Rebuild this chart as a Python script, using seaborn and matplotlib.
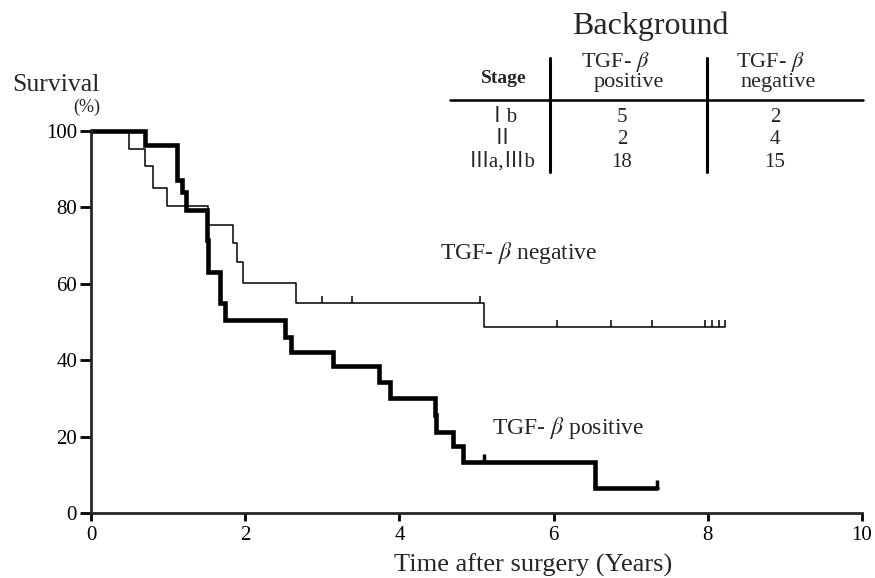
import matplotlib
matplotlib.use('Agg')
import matplotlib.pyplot as plt
import seaborn as sns
from matplotlib.lines import Line2D

# Kaplan-Meier steps (time in years, survival in %)
pos_time = [0, 0.70, 1.11, 1.18, 1.23, 1.50, 1.52, 1.67, 1.74, 2.52, 2.60,
            3.14, 3.73, 3.88, 4.46, 4.48, 4.70, 4.83, 6.54, 7.34]
pos_surv = [100, 96.3, 87.3, 84.1, 79.3, 71.5, 63.2, 55.0, 50.5, 46.2, 42.2,
            38.5, 34.4, 30.0, 25.7, 21.3, 17.6, 13.4, 6.5, 6.5]
pos_cens_time = [5.10, 7.34]
pos_cens_surv = [13.4, 6.5]

neg_time = [0, 0.49, 0.70, 0.80, 0.99, 1.52, 1.84, 1.89, 1.97, 2.66, 5.10, 8.22]
neg_surv = [100, 95.3, 90.9, 85.2, 80.4, 75.4, 70.8, 65.8, 60.1, 55.1, 48.6, 48.6]
neg_cens_time = [3.00, 3.38, 5.05, 6.05, 6.74, 7.28, 7.96, 8.06, 8.14, 8.22]
neg_cens_surv = [55.1, 55.1, 55.1, 48.6, 48.6, 48.6, 48.6, 48.6, 48.6, 48.6]

x_ticks = [0, 2, 4, 6, 8, 10]
y_ticks = [0, 20, 40, 60, 80, 100]

# background table
stages = ['Ⅰb', 'Ⅱ', 'Ⅲa,Ⅲb']
pos_counts = [5, 2, 18]
neg_counts = [2, 4, 15]

W, H = 875, 578

sns.set_style('ticks')
plt.rcParams['font.family'] = ['Liberation Serif', 'Noto Sans CJK JP', 'DejaVu Serif']
plt.rcParams['mathtext.fontset'] = 'stix'


def fx(px):
    return px / W


def fy(py):
    return 1 - py / H


fig = plt.figure(figsize=(W / 100, H / 100), dpi=100)
ax = fig.add_axes([fx(91), 65 / H, 771 / W, 382 / H])

sns.lineplot(x=neg_time, y=neg_surv, drawstyle='steps-post', color='black',
             lw=1.1, estimator=None, sort=False, ax=ax, clip_on=False)
sns.lineplot(x=pos_time, y=pos_surv, drawstyle='steps-post', color='black',
             lw=3.3, estimator=None, sort=False, ax=ax, clip_on=False,
             solid_joinstyle='miter')
ax.plot(neg_cens_time, neg_cens_surv, ls='none', marker=2, ms=5, mew=1.1,
        color='black', clip_on=False)
ax.plot(pos_cens_time, pos_cens_surv, ls='none', marker=2, ms=6, mew=2.5,
        color='black', clip_on=False)

ax.set_xlim(0, 10)
ax.set_ylim(0, 100)
ax.set_xticks(x_ticks)
ax.set_yticks(y_ticks)
ax.set_xlabel('')
ax.set_ylabel('')
sns.despine(ax=ax)
for s in ['left', 'bottom']:
    ax.spines[s].set_linewidth(2.0)
ax.tick_params(axis='both', direction='out', width=2.0, labelsize=15, colors='black')
ax.tick_params(axis='x', length=6, pad=3)
ax.tick_params(axis='y', length=8, pad=2)

ax.text(4.53, 68, 'TGF- $\\beta$ negative', fontsize=17, va='center', ha='left')
ax.text(5.2, 22.3, 'TGF- $\\beta$ positive', fontsize=17, va='center', ha='left')

fig.text(fx(533), fy(565), 'Time after surgery (Years)', fontsize=19,
         ha='center', va='center')
fig.text(fx(12), fy(91), 'Survival', fontsize=18.5, ha='left', va='baseline')
fig.text(fx(87), fy(107), '(%)', fontsize=13, ha='center', va='center')

# table
fig.text(fx(650), fy(26), 'Background', fontsize=23, ha='center', va='center')
fig.text(fx(504), fy(78), 'Stage', fontsize=14, weight='bold', ha='center', va='center')
fig.text(fx(615), fy(62), 'TGF- $\\beta$', fontsize=16, ha='center', va='center')
fig.text(fx(629), fy(82), 'positive', fontsize=16, ha='center', va='center')
fig.text(fx(770), fy(62), 'TGF- $\\beta$', fontsize=16, ha='center', va='center')
fig.text(fx(778), fy(82), 'negative', fontsize=16, ha='center', va='center')
row_y = [118, 140, 162]
for st, pc, nc, yy in zip(stages, pos_counts, neg_counts, row_y):
    fig.text(fx(502), fy(yy), st, fontsize=15, ha='center', va='center')
    fig.text(fx(622), fy(yy), str(pc), fontsize=15, ha='center', va='center')
    fig.text(fx(775), fy(yy), str(nc), fontsize=15, ha='center', va='center')

fig.add_artist(Line2D([fx(450), fx(863)], [fy(100), fy(100)], color='black', lw=1.8))
fig.add_artist(Line2D([fx(550), fx(550)], [fy(58), fy(172)], color='black', lw=2.2))
fig.add_artist(Line2D([fx(707), fx(707)], [fy(58), fy(172)], color='black', lw=2.2))

fig.savefig('out.png', dpi=100)
